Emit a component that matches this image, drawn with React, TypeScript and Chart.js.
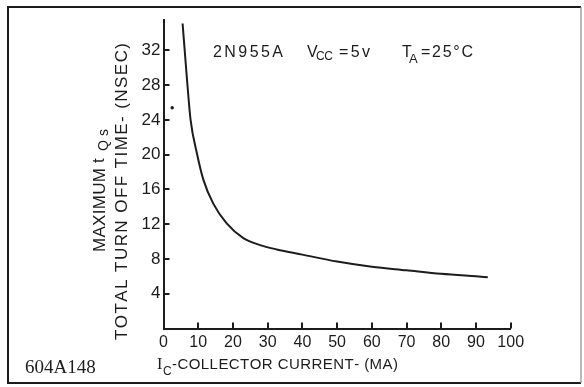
import React, { useEffect, useRef } from 'react';
import { Chart, registerables } from 'chart.js';

Chart.register(...registerables);

// Collector current (mA) and maximum total turn-off time (ns)
const currentMA = [5.5, 6.7, 7.8, 9.6, 11.5, 14.3, 18.2, 23.0, 27.8, 32.6, 40, 50, 60, 70, 80, 90, 93.4];
const turnOffNs = [35.1, 29.0, 24.0, 20.2, 17.1, 14.4, 12.1, 10.4, 9.6, 9.1, 8.5, 7.7, 7.1, 6.7, 6.3, 6.0, 5.9];

// stray printed dot near the y axis
const dotX = [2.5];
const dotY = [25.4];

const xTicks = [0, 10, 20, 30, 40, 50, 60, 70, 80, 90, 100];
const yTicks = [4, 8, 12, 16, 20, 24, 28, 32];
const X_MIN = 0;
const X_MAX = 100;
const Y_MIN = 0;
const Y_MAX = 35.5;

const INK = '#1c1c1c';
const SANS = "'Liberation Sans', Arial, sans-serif";
const SERIF = "'Liberation Serif', 'Times New Roman', serif";

function drawFit(ctx: CanvasRenderingContext2D, text: string, x: number, y: number, width: number) {
  const chars = Array.from(text);
  const widths = chars.map((c) => ctx.measureText(c).width);
  const natural = widths.reduce((a, b) => a + b, 0);
  const gap = chars.length > 1 ? (width - natural) / (chars.length - 1) : 0;
  let cx = x;
  chars.forEach((c, i) => {
    ctx.fillText(c, cx, y);
    cx += widths[i] + gap;
  });
}

const decorPlugin = {
  id: 'decor',
  afterDraw(chart: any) {
    const ctx: CanvasRenderingContext2D = chart.ctx;
    const xs = chart.scales.x;
    const ys = chart.scales.y;
    const area = chart.chartArea;
    ctx.save();
    ctx.strokeStyle = INK;
    ctx.fillStyle = INK;

    // frame
    ctx.lineWidth = 2;
    ctx.beginPath();
    ctx.moveTo(581, 7);
    ctx.lineTo(8, 7);
    ctx.lineTo(8, 383);
    ctx.lineTo(581, 383);
    ctx.stroke();
    ctx.strokeStyle = '#8a8a8a';
    ctx.lineWidth = 1.2;
    ctx.beginPath();
    ctx.moveTo(581, 7);
    ctx.lineTo(581, 383);
    ctx.stroke();

    // inward tick marks
    ctx.strokeStyle = INK;
    ctx.lineWidth = 2;
    ctx.beginPath();
    yTicks.forEach((v) => {
      const py = Math.round(ys.getPixelForValue(v));
      ctx.moveTo(area.left, py);
      ctx.lineTo(area.left + 6, py);
    });
    xTicks.forEach((v) => {
      if (v === 0) return;
      const px = Math.round(xs.getPixelForValue(v));
      ctx.moveTo(px, area.bottom);
      ctx.lineTo(px, area.bottom - 6);
    });
    ctx.stroke();

    // annotation
    ctx.textBaseline = 'alphabetic';
    ctx.textAlign = 'left';
    ctx.font = `16px ${SANS}`;
    drawFit(ctx, '2N955A', 213, 57, 70);
    drawFit(ctx, 'V', 307, 57, 10);
    ctx.font = `12px ${SANS}`;
    drawFit(ctx, 'CC', 316, 60, 17);
    ctx.font = `16px ${SANS}`;
    drawFit(ctx, '=5v', 339, 57, 31);
    drawFit(ctx, 'T', 402, 57, 9);
    ctx.font = `13px ${SANS}`;
    drawFit(ctx, 'A', 409, 63, 9);
    ctx.font = `16px ${SANS}`;
    drawFit(ctx, '=25°C', 421, 57, 52);

    // x title
    ctx.font = `16px ${SERIF}`;
    ctx.fillText('I', 157, 369);
    ctx.font = `12px ${SANS}`;
    ctx.fillText('C', 163, 375);
    ctx.font = `15px ${SANS}`;
    drawFit(ctx, '-COLLECTOR CURRENT- (MA)', 172, 369, 226);

    // figure code
    ctx.font = `19px ${SERIF}`;
    ctx.fillText('604A148', 25, 373);

    // y title (rotated)
    ctx.save();
    ctx.translate(100, 252);
    ctx.rotate(-Math.PI / 2);
    ctx.textBaseline = 'middle';
    ctx.font = `17px ${SANS}`;
    drawFit(ctx, 'MAXIMUM', 0, 0, 84);
    drawFit(ctx, 't', 89, -1, 7);
    ctx.font = `14px ${SANS}`;
    drawFit(ctx, 'Qs', 101, 4, 22);
    ctx.restore();

    ctx.save();
    ctx.translate(122, 340);
    ctx.rotate(-Math.PI / 2);
    ctx.textBaseline = 'middle';
    ctx.font = `17px ${SANS}`;
    drawFit(ctx, 'TOTAL TURN OFF TIME- (NSEC)', 0, 0, 297);
    ctx.restore();

    ctx.restore();
  },
};

export default function App() {
  const ref = useRef<HTMLCanvasElement | null>(null);

  useEffect(() => {
    if (!ref.current) return;
    const chart = new Chart(ref.current, {
      type: 'scatter',
      data: {
        datasets: [
          {
            data: currentMA.map((x, i) => ({ x, y: turnOffNs[i] })),
            showLine: true,
            borderColor: INK,
            borderWidth: 2,
            pointRadius: 0,
            fill: false,
            cubicInterpolationMode: 'monotone',
          },
          {
            data: dotX.map((x, i) => ({ x, y: dotY[i] })),
            showLine: false,
            pointRadius: 1.7,
            backgroundColor: INK,
            borderWidth: 0,
          },
        ],
      },
      options: {
        responsive: false,
        animation: false,
        events: [],
        layout: { padding: { left: 0, top: 20, right: 73.3, bottom: 28.5 } },
        plugins: { legend: { display: false }, tooltip: { enabled: false } },
        scales: {
          x: {
            type: 'linear',
            min: X_MIN,
            max: X_MAX,
            afterBuildTicks: (s: any) => {
              s.ticks = xTicks.map((value) => ({ value }));
            },
            afterFit: (s: any) => {
              s.height = 30;
            },
            grid: { display: false, drawTicks: false },
            border: { display: true, color: INK, width: 2 },
            ticks: {
              color: INK,
              padding: 4,
              maxRotation: 0,
              autoSkip: false,
              font: { family: SANS, size: 16 },
            },
          },
          y: {
            type: 'linear',
            min: Y_MIN,
            max: Y_MAX,
            afterBuildTicks: (s: any) => {
              s.ticks = yTicks.map((value) => ({ value }));
            },
            afterFit: (s: any) => {
              s.width = 163.5;
            },
            grid: { display: false, drawTicks: false },
            border: { display: true, color: INK, width: 2 },
            ticks: {
              color: INK,
              padding: 3,
              autoSkip: false,
              font: { family: SANS, size: 17 },
            },
          },
        },
      },
      plugins: [decorPlugin],
    } as any);
    return () => chart.destroy();
  }, []);

  return (
    <canvas
      ref={ref}
      width={584}
      height={387}
      style={{ position: 'absolute', left: 0, top: 0, width: 584, height: 387, background: '#fff' }}
    />
  );
}
